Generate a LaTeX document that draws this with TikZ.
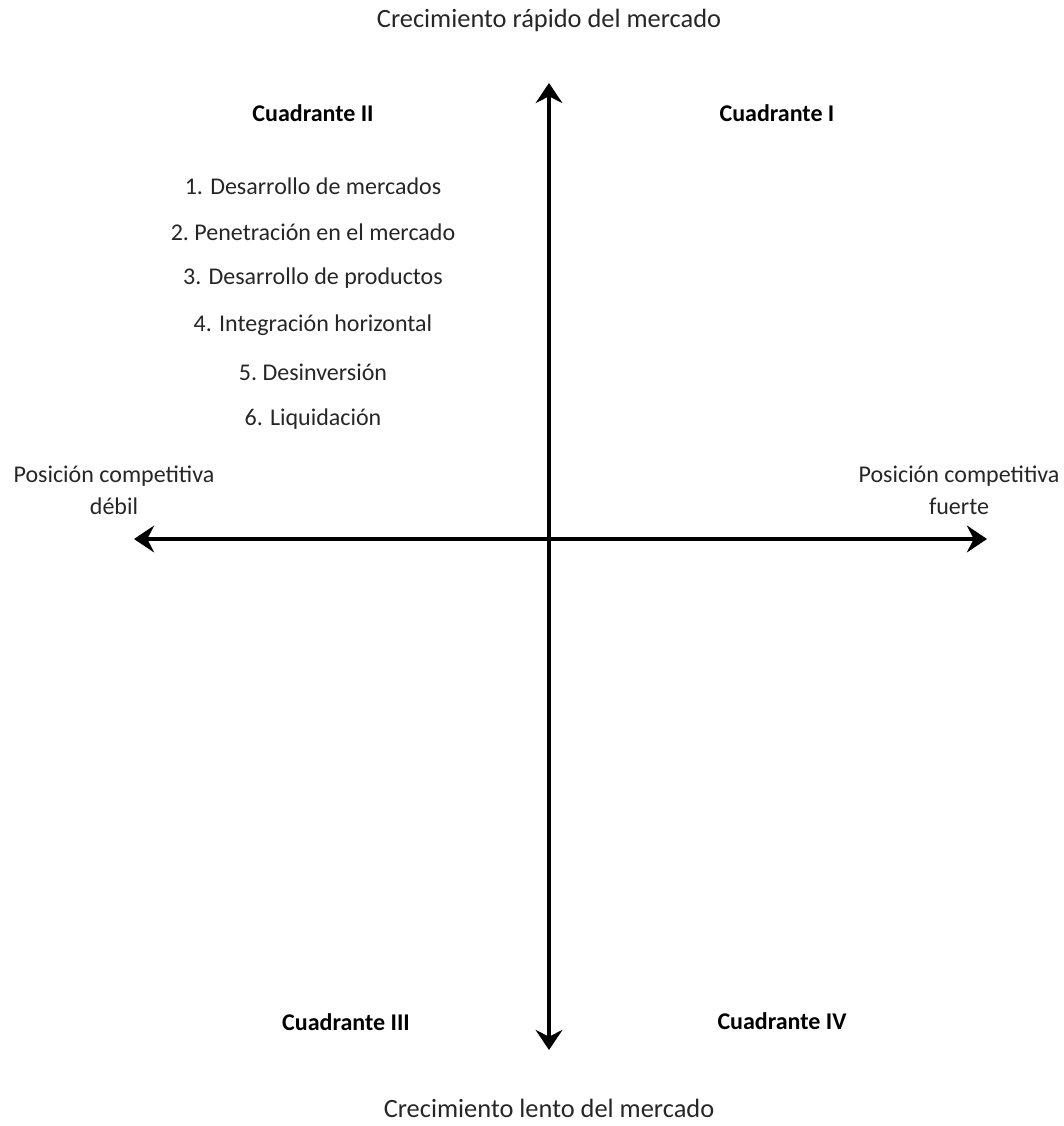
\documentclass[tikz,border=0pt]{standalone}
\usepackage{fontspec}
\setmainfont{Carlito}
\usetikzlibrary{arrows.meta}
\begin{document}
\begin{tikzpicture}[x=0.75pt,y=-0.75pt,
  lbl/.style={font=\fontsize{18pt}{20pt}\selectfont, align=center, inner sep=0pt, text=black!85},
  big/.style={lbl, font=\fontsize{19.8pt}{22pt}\selectfont},
  quad/.style={lbl, font=\fontsize{18pt}{20pt}\selectfont\bfseries, text=black},
  axis/.style={line width=3.3pt, {Stealth[length=15pt,width=20pt,inset=5pt]}-{Stealth[length=15pt,width=20pt,inset=5pt]}}]
\useasboundingbox (0,0) rectangle (1063,1126);
\coordinate (top) at (549,83);
\coordinate (bot) at (549,1050);
\coordinate (lft) at (134,539);
\coordinate (rgt) at (987,539);
\draw[axis] (bot) -- (top);
\draw[axis] (lft) -- (rgt);
\node[big] (t) at (549,20) {Crecimiento rápido del mercado};
\node[big] (b) at (549,1108) {Crecimiento lento del mercado};
\node[quad] (q2) at (313,113) {Cuadrante II};
\node[quad] (q1) at (777,113) {Cuadrante I};
\node[quad] (q3) at (346,1022) {Cuadrante III};
\node[quad] (q4) at (782,1021) {Cuadrante IV};
\node[lbl] (i1) at (313,186) {1. Desarrollo de mercados};
\node[lbl] (i2) at (313,232) {2.\ Penetración en el mercado};
\node[lbl] (i3) at (313,278) {3. Desarrollo de productos};
\node[lbl] (i4) at (313,325) {4. Integración horizontal};
\node[lbl] (i5) at (313,372) {5.\ Desinversión};
\node[lbl] (i6) at (313,419) {6. Liquidación};
\node[lbl] (pl) at (114,490) {Posición competitiva\\[4pt]débil};
\node[lbl] (pr) at (959,490) {Posición competitiva\\[4pt]fuerte};
\end{tikzpicture}
\end{document}
